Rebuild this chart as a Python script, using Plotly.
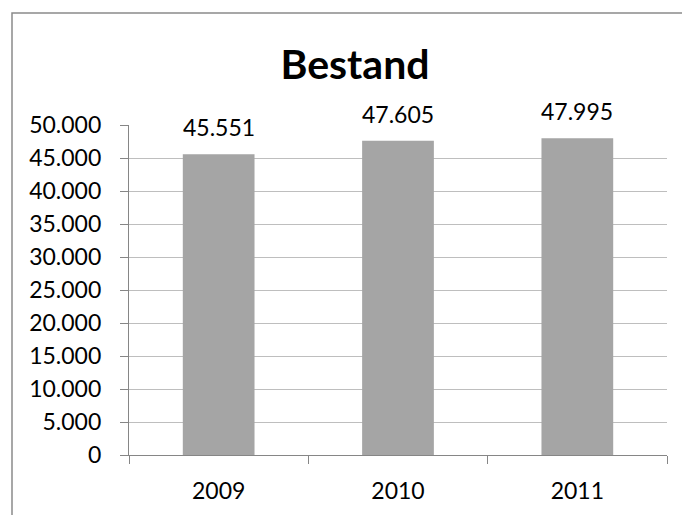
import plotly.graph_objects as go

categories = ["2009", "2010", "2011"]
values = [45551, 47605, 47995]
y_ticks = [0, 5000, 10000, 15000, 20000, 25000, 30000, 35000, 40000, 45000, 50000]

FONT = "Lato, Calibri, Carlito, sans-serif"

fig = go.Figure()
fig.add_trace(go.Bar(
    x=categories, y=values,
    marker=dict(color="#A5A5A5", line=dict(width=0)),
    hoverinfo="skip",
))

annotations = []
for i, v in enumerate(values):
    annotations.append(dict(
        x=i, y=v, xref="x", yref="y",
        text=f"{v:,}".replace(",", "."),
        showarrow=False, yanchor="bottom", yshift=11,
        font=dict(family=FONT, size=23, color="#000000"),
    ))

fig.update_layout(
    width=682, height=515,
    margin=dict(l=129, r=15, t=125, b=60),
    paper_bgcolor="white", plot_bgcolor="white",
    separators=",.",
    showlegend=False,
    bargap=0.6,
    font=dict(family=FONT, size=23, color="#000000"),
    title=dict(
        text="<b>Bestand</b>",
        x=355 / 682, xanchor="center", xref="container",
        y=1 - 65 / 515, yanchor="middle", yref="container",
        font=dict(family=FONT, size=41, color="#000000"),
    ),
    annotations=annotations,
    shapes=[dict(
        type="rect", xref="paper", yref="paper",
        x0=(12 - 129) / 538, x1=1.2,
        y0=-0.4, y1=(455 - 13) / 330,
        line=dict(color="#8A8A8A", width=1.5),
        fillcolor="rgba(0,0,0,0)", layer="below",
    )],
)

fig.update_xaxes(
    type="category",
    categoryorder="array", categoryarray=categories,
    range=[-0.5, len(categories) - 0.5],
    showline=True, linecolor="#868686", linewidth=1.2,
    ticks="outside", tickson="boundaries", ticklen=8, tickcolor="#868686",
    ticklabelstandoff=15,
    showgrid=False, zeroline=False,
    tickfont=dict(family=FONT, size=23, color="#000000"),
)
fig.update_yaxes(
    range=[0, 50000],
    tickvals=y_ticks, tickformat=",.0f",
    showline=True, linecolor="#868686", linewidth=1.2,
    ticks="outside", ticklen=8, tickcolor="#868686",
    ticklabelstandoff=14,
    showgrid=True, gridcolor="#BEBEBE", gridwidth=1,
    zeroline=False,
    tickfont=dict(family=FONT, size=23, color="#000000"),
)

fig.write_html("out.html")
